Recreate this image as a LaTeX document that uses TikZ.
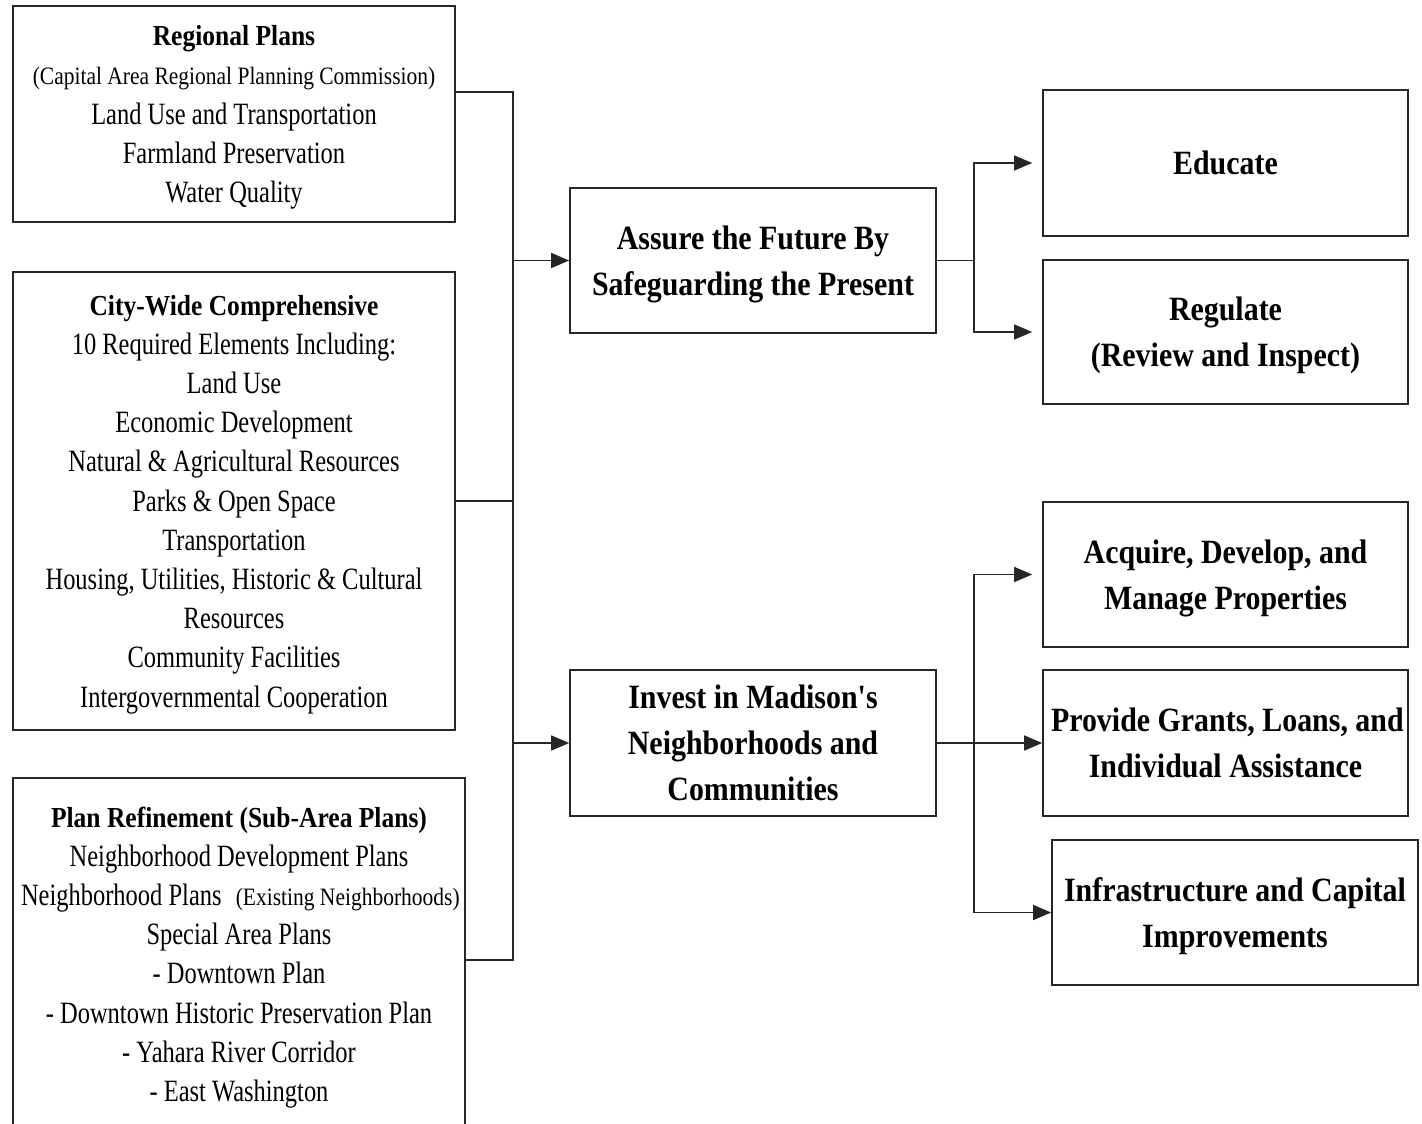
\documentclass[tikz,border=0pt]{standalone}
\usepackage{fontspec}
\setmainfont{Liberation Serif}
% narrow Times-like faces for the planning chart
\newfontfamily\bodyfnt[FakeStretch=0.79]{Liberation Serif}
\newfontfamily\notefnt[FakeStretch=0.86]{Liberation Serif}
\newfontfamily\headfnt[FakeStretch=0.88]{Liberation Serif}
\usetikzlibrary{arrows.meta}

\tikzset{
  box/.style={draw=black!85, line width=1.6pt, inner xsep=8pt, inner ysep=0pt,
              align=flush center, anchor=center},
  plan/.style={box, font={\bodyfnt\fontsize{31}{39.2}\selectfont}},
  goal/.style={box, font={\headfnt\bfseries\fontsize{34}{46}\selectfont}},
  link/.style={draw=black!85, line width=1.4pt},
  arr/.style={link, -{Triangle[length=18pt,width=15pt]}},
}
\newcommand\planhead[1]{{\headfnt\bfseries\fontsize{29}{39.2}\selectfont #1}}
\newcommand\plannote[1]{{\notefnt\fontsize{25}{39.2}\selectfont #1}}
% one unbreakable line whose descenders do not push the block upwards
\newcommand\lastline[1]{\raisebox{0pt}[\height][0pt]{#1}}

\begin{document}
\frenchspacing
\begin{tikzpicture}[x=1pt,y=-1pt]
\fill[white] (0,0) rectangle (1422,1124);
\useasboundingbox (0,0) rectangle (1422,1124);
\clip (0,0) rectangle (1422,1124);

% plan sources (left column)
\node[plan, text width=426pt, minimum height=216pt] (rp) at (234,114)
  {\planhead{Regional Plans}\\
   \mbox{\plannote{(Capital Area Regional Planning Commission)}}\\
   Land Use and Transportation\\
   Farmland Preservation\\
   \lastline{Water Quality}};

\node[plan, text width=426pt, minimum height=458pt] (cw) at (234,501)
  {\planhead{City-Wide Comprehensive}\\
   10 Required Elements Including:\\
   Land Use\\
   Economic Development\\
   Natural \& Agricultural Resources\\
   Parks \& Open Space\\
   Transportation\\
   \mbox{Housing, Utilities, Historic \& Cultural}\\
   Resources\\
   Community Facilities\\
   \lastline{Intergovernmental Cooperation}};

\node[plan, text width=436pt, minimum height=352pt] (sp) at (239,954)
  {\planhead{Plan Refinement (Sub-Area Plans)}\\
   Neighborhood Development Plans\\
   \mbox{Neighborhood Plans\hspace{8pt} \plannote{(Existing Neighborhoods)}}\\
   Special Area Plans\\
   - Downtown Plan\\
   \mbox{- Downtown Historic Preservation Plan}\\
   - Yahara River Corridor\\
   \lastline{- East Washington}};

% strategic goals (middle column)
\node[goal, text width=350pt, minimum height=145pt] (af) at (753,260.5)
  {Assure the Future By\\ \lastline{Safeguarding the Present}};
\node[goal, text width=350pt, minimum height=146pt] (inv) at (753,743)
  {Invest in Madison's\\ Neighborhoods and\\ \lastline{Communities}};

% actions (right column)
\node[goal, text width=349pt, minimum height=146pt] (edu) at (1225.5,163)
  {\lastline{Educate}};
\node[goal, text width=349pt, minimum height=144pt] (reg) at (1225.5,332)
  {Regulate\\ \lastline{(Review and Inspect)}};
\node[goal, text width=349pt, minimum height=145pt] (acq) at (1225.5,574.5)
  {\mbox{Acquire, Develop, and}\\ \lastline{Manage Properties}};
\node[goal, text width=349pt, minimum height=146pt] (prov) at (1225.5,743)
  {\mbox{Provide Grants, Loans, and}\\ \lastline{Individual Assistance}};
\node[goal, text width=350pt, minimum height=145pt] (inf) at (1235,912.5)
  {\mbox{Infrastructure and Capital}\\ \lastline{Improvements}};

% collecting bus on the left
\coordinate (bt) at (513,92);
\coordinate (bb) at (513,960);
\draw[link] (rp.east |- bt) -- (bt) -- (bb) -- (sp.east |- bb);
\draw[link] (cw.east) -- (cw.east -| bt);
\draw[arr] (af.west -| bt) -- (af.west);
\draw[arr] (inv.west -| bt) -- (inv.west);

% branching to the actions
\coordinate (ja) at (974,0);
\draw[link] (af.east) -- (af.east -| ja);
\draw[arr, shorten >=10pt] (af.east -| ja) |- (edu.west);
\draw[arr, shorten >=10pt] (af.east -| ja) |- (reg.west);
\draw[arr] (inv.east) -- (prov.west);
\draw[arr, shorten >=10pt] (inv.east -| ja) |- (acq.west);
\draw[arr] (inv.east -| ja) |- (inf.west);
\end{tikzpicture}
\end{document}
